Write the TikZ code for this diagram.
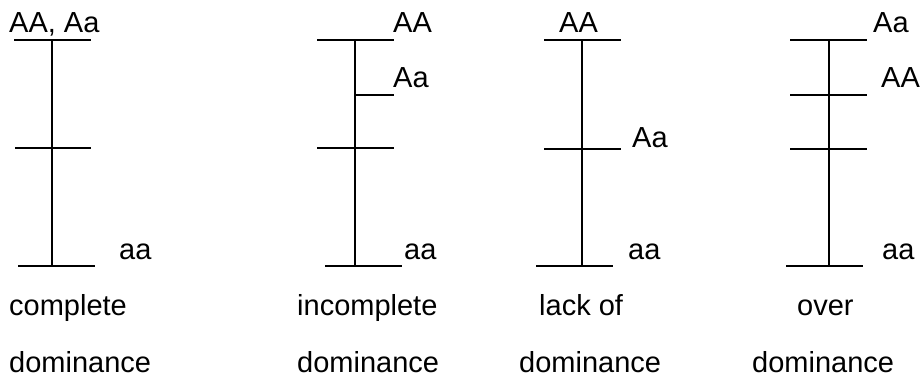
\documentclass[tikz,border=0pt]{standalone}
\usepackage{fontspec}
\setmainfont{Liberation Sans}
\begin{document}
\begin{tikzpicture}[x=1pt,y=-1pt,
  bar/.style={line width=1.6pt},
  lbl/.style={anchor=base west,inner sep=0pt,font=\fontsize{29}{35}\selectfont}]
\useasboundingbox (0,0) rectangle (923,377);
% panel 1
\coordinate (v1t) at (52,40); \coordinate (v1b) at (52,266);
\coordinate (a1l) at (14,40); \coordinate (a1r) at (91,40);
\coordinate (b1l) at (15,148); \coordinate (b1r) at (91,148);
\coordinate (c1l) at (18,266); \coordinate (c1r) at (95,266);
\draw[bar] (v1t) -- (v1b); \draw[bar] (a1l) -- (a1r); \draw[bar] (b1l) -- (b1r); \draw[bar] (c1l) -- (c1r);
\node[lbl] (t1) at (9,33) {AA, Aa};
\node[lbl] (u1) at (119,259) {aa};
\node[lbl] (n1) at (9,315) {complete};
\node[lbl] (d1) at (9,372) {dominance};
% panel 2
\coordinate (v2t) at (355,40); \coordinate (v2b) at (355,266);
\coordinate (a2l) at (317,40); \coordinate (a2r) at (394,40);
\coordinate (e2l) at (355,95); \coordinate (e2r) at (394,95);
\coordinate (b2l) at (317,148); \coordinate (b2r) at (394,148);
\coordinate (c2l) at (325,266); \coordinate (c2r) at (402,266);
\draw[bar] (v2t) -- (v2b); \draw[bar] (a2l) -- (a2r); \draw[bar] (e2l) -- (e2r); \draw[bar] (b2l) -- (b2r); \draw[bar] (c2l) -- (c2r);
\node[lbl] (t2) at (393,33) {AA};
\node[lbl] (s2) at (393,88) {Aa};
\node[lbl] (u2) at (404,259) {aa};
\node[lbl] (n2) at (297,315) {incomplete};
\node[lbl] (d2) at (297,372) {dominance};
% panel 3
\coordinate (v3t) at (582,40); \coordinate (v3b) at (582,266);
\coordinate (a3l) at (544,40); \coordinate (a3r) at (621,40);
\coordinate (b3l) at (544,149); \coordinate (b3r) at (621,149);
\coordinate (c3l) at (536,266); \coordinate (c3r) at (613,266);
\draw[bar] (v3t) -- (v3b); \draw[bar] (a3l) -- (a3r); \draw[bar] (b3l) -- (b3r); \draw[bar] (c3l) -- (c3r);
\node[lbl] (t3) at (559,33) {AA};
\node[lbl] (s3) at (632,147) {Aa};
\node[lbl] (u3) at (628,259) {aa};
\node[lbl] (n3) at (539,315) {lack of};
\node[lbl] (d3) at (519,372) {dominance};
% panel 4
\coordinate (v4t) at (829,40); \coordinate (v4b) at (829,266);
\coordinate (a4l) at (790,40); \coordinate (a4r) at (867,40);
\coordinate (e4l) at (790,95); \coordinate (e4r) at (867,95);
\coordinate (b4l) at (790,149); \coordinate (b4r) at (867,149);
\coordinate (c4l) at (786,266); \coordinate (c4r) at (863,266);
\draw[bar] (v4t) -- (v4b); \draw[bar] (a4l) -- (a4r); \draw[bar] (e4l) -- (e4r); \draw[bar] (b4l) -- (b4r); \draw[bar] (c4l) -- (c4r);
\node[lbl] (t4) at (873,33) {Aa};
\node[lbl] (s4) at (881,88) {AA};
\node[lbl] (u4) at (882,259) {aa};
\node[lbl] (n4) at (797,315) {over};
\node[lbl] (d4) at (752,372) {dominance};
\end{tikzpicture}
\end{document}
